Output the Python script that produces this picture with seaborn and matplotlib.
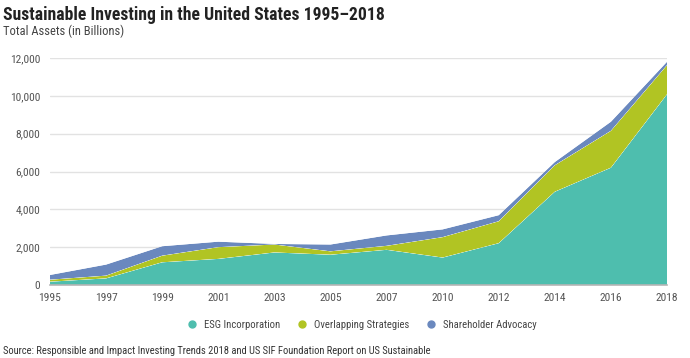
import matplotlib
matplotlib.use("Agg")
import matplotlib.pyplot as plt
from matplotlib.lines import Line2D
from matplotlib import font_manager
import seaborn as sns
import seaborn.objects as so
import pandas as pd

years = ["1995", "1997", "1999", "2001", "2003", "2005", "2007", "2010", "2012", "2014", "2016", "2018"]
esg = [175, 350, 1200, 1380, 1720, 1600, 1860, 1450, 2210, 4930, 6200, 10080]
overlapping = [105, 145, 350, 620, 420, 180, 210, 1080, 1160, 1400, 1950, 1540]
shareholder = [250, 585, 500, 290, 30, 360, 550, 410, 320, 170, 480, 180]
series_names = ["ESG Incorporation", "Overlapping Strategies", "Shareholder Advocacy"]
colors = ["#4EBEAE", "#B1C423", "#6A88BE"]
yticks = [0, 2000, 4000, 6000, 8000, 10000, 12000]
title = "Sustainable Investing in the United States 1995\u20132018"
subtitle = "Total Assets (in Billions)"
source = "Source: Responsible and Impact Investing Trends 2018 and US SIF Foundation Report on US Sustainable"

sns.set_theme(style="white")
installed = {f.name for f in font_manager.fontManager.ttflist}
narrow = None
for cand in ["Roboto Condensed", "Liberation Sans Narrow", "Open Sans Condensed"]:
    if cand in installed:
        narrow = cand
        break
main = narrow if narrow else "Lato"
FONT = [main, "DejaVu Sans"]
plt.rcParams["font.family"] = FONT
scale = 1.0 if narrow is None else 1.1

rows = []
for name, vals in zip(series_names, [esg, overlapping, shareholder]):
    for i, v in enumerate(vals):
        rows.append({"x": i, "value": v, "series": name})
df = pd.DataFrame(rows)

fig = plt.figure(figsize=(6.9, 3.58), dpi=100)
ax = fig.add_axes([50/690, 1-285/358, 617/690, 227/358])

(
    so.Plot(df, x="x", y="value", color="series")
    .add(so.Area(alpha=1, edgewidth=0), so.Stack(), legend=False)
    .scale(color=so.Nominal(dict(zip(series_names, colors)), order=series_names))
    .on(ax)
    .plot()
)

ax.set_facecolor("white")
ax.set_xlim(0, len(years) - 1)
ax.set_ylim(0, 12000)
ax.set_xticks(range(len(years)))
ax.set_xticklabels(years)
ax.set_yticks(yticks)
ax.set_yticklabels([f"{v:,}" for v in yticks])
ax.set_xlabel("")
ax.set_ylabel("")
ax.grid(axis="y", color="#e2e2e2", linewidth=1)
ax.grid(axis="x", visible=False)
ax.set_axisbelow(True)
for s in ["top", "right", "left"]:
    ax.spines[s].set_visible(False)
ax.spines["bottom"].set_color("#b5b5b5")
ax.spines["bottom"].set_linewidth(1.2)
ax.tick_params(axis="both", length=0, labelsize=7.5 * scale, labelcolor="#555555")
ax.tick_params(axis="x", pad=6)
ax.tick_params(axis="y", pad=7)

fig.text(3/690, 1-15/358, title, fontsize=11.55 * scale, fontweight="bold", color="#222222",
         va="center", ha="left")
fig.text(3/690, 1-31/358, subtitle, fontsize=8.2 * scale, color="#444444", va="center", ha="left")
fig.text(3/690, 1-351/358, source, fontsize=6.85 * scale, color="#333333", va="center", ha="left")

handles = [Line2D([0], [0], marker="o", linestyle="", markersize=5,
                  markerfacecolor=c, markeredgecolor=c) for c in colors]
fig.legend(handles, series_names, loc="center", bbox_to_anchor=(359/690, 1-325/358),
           ncol=3, frameon=False, fontsize=6.95 * scale, handletextpad=0.15, columnspacing=1.0,
           labelcolor="#444444")

fig.savefig("out.png", dpi=100)
